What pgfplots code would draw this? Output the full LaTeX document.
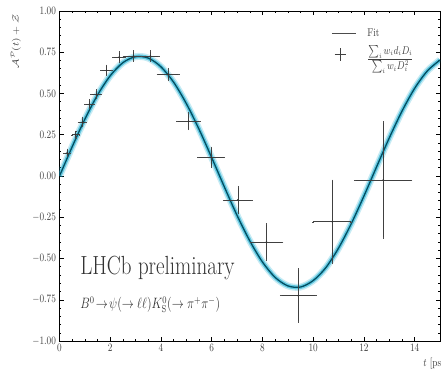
\documentclass[border=0pt]{standalone}
\usepackage{graphicx}
\usepackage{pgfplots}
\pgfplotsset{compat=1.18}
\usepackage{pgfplotstable}
\newcommand{\vs}[1]{\scalebox{1}[1.25]{#1}}
\definecolor{fitline}{RGB}{0,78,98}
\definecolor{band}{RGB}{30,175,210}

\pgfplotstableread{
x y
0 0
0.5 0.1771
1 0.3443
1.5 0.4910
2 0.6077
2.5 0.6869
3 0.7232
3.5 0.7147
4 0.6617
4.5 0.5681
5 0.4387
5.5 0.2835
6 0.1112
6.5 -0.0665
7 -0.2387
7.5 -0.3927
8 -0.5210
8.5 -0.6145
9 -0.6658
9.5 -0.6729
10 -0.6339
10.5 -0.5554
11 -0.4369
11.5 -0.2895
12 -0.1218
12.5 0.0555
13 0.2307
13.5 0.3926
14 0.5310
14.5 0.6366
15 0.7028
}\fitdata

\pgfplotstableread{
x y ex ey
0.30 0.14 0.12 0.02
0.64 0.25 0.15 0.02
0.90 0.325 0.15 0.025
1.18 0.435 0.17 0.025
1.45 0.495 0.20 0.025
1.86 0.64 0.22 0.03
2.35 0.72 0.23 0.03
2.92 0.727 0.40 0.03
3.58 0.727 0.35 0.03
4.28 0.615 0.42 0.035
5.09 0.333 0.45 0.05
5.98 0.113 0.52 0.06
7.03 -0.145 0.56 0.08
8.16 -0.40 0.63 0.11
9.41 -0.725 0.69 0.16
10.75 -0.277 0.75 0.25
12.76 -0.024 1.12 0.35
}\pointdata

\begin{document}
\begin{tikzpicture}
\begin{axis}[
  scale only axis,
  width=380.5pt, height=330pt,
  xmin=0, xmax=15, ymin=-1, ymax=1,
  xtick={0,2,...,14},
  ytick={-1,-0.75,...,1},
  minor x tick num=3,
  minor y tick num=4,
  tick align=inside,
  major tick length=4pt,
  minor tick length=2pt,
  tick style={black, line width=0.5pt},
  axis line style={black, line width=0.7pt},
  xticklabel={\vs{$\pgfmathprintnumber{\tick}$}},
  yticklabel={\vs{$\pgfmathprintnumber[fixed,fixed zerofill,precision=2]{\tick}$}},
  ticklabel style={font=\small, text=black!75},
  xlabel={\vs{$t$ [ps]}},
  xlabel style={at={(axis description cs:0.947,-0.04)}, anchor=north west, font=\small, text=black!75},
  ylabel={\scalebox{1.25}[1]{$\mathcal{A}^{\mathcal{P}}(t)+\mathcal{Z}$}},
  ylabel style={at={(axis description cs:-0.092,1)}, anchor=south east, font=\small, text=black!75},
  legend style={at={(axis cs:10.6,0.92)}, anchor=north west, draw=none, fill=none, font=\small, row sep=4pt, text=black!75},
  legend cell align=left,
]
\addplot[band, line width=7pt, opacity=0.25, forget plot, smooth] table[x=x,y=y] {\fitdata};
\addplot[band, line width=4pt, opacity=0.6, forget plot, smooth] table[x=x,y=y] {\fitdata};
\addplot[fitline, line width=1.3pt, smooth,
  legend image code/.code={\draw[black!70, line width=0.6pt] (0cm,0cm) -- (0.85cm,0cm); \path (1.15cm,0cm);}]
  table[x=x,y=y] {\fitdata};
\addlegendentry{\vs{Fit}}
\addplot[black!80, only marks, mark=*, mark size=0.5pt, line width=0.5pt,
  error bars/.cd, x dir=both, x explicit, y dir=both, y explicit,
  error mark=-, error mark options={mark size=0.8pt, black!70},
  error bar style={line width=0.5pt, black!75},
  /pgfplots/legend image code/.code={\draw[black!75, line width=0.6pt] (0.1cm,0cm) -- (0.5cm,0cm) (0.3cm,-0.22cm) -- (0.3cm,0.22cm); \path (1.15cm,0cm);}]
  table[x=x,y=y,x error=ex,y error=ey] {\pointdata};
\addlegendentry{\vs{$\frac{\textstyle\sum_i w_i d_i D_i}{\textstyle\sum_i w_i D_i^2}$}}
\node[anchor=west, text=black!80, font=\fontsize{21}{24}\selectfont] at (axis cs:0.68,-0.555) {\vs{LHCb preliminary}};
\node[anchor=west, text=black!80, font=\fontsize{12}{14}\selectfont] at (axis cs:0.68,-0.78) {\vs{$B^0\!\to\!\psi(\to\ell\ell)K^0_{\mathrm{S}}(\to\pi^+\pi^-)$}};
\end{axis}
\pgfresetboundingbox
\path[use as bounding box] ([shift={(-59.5pt,-28pt)}]current axis.south west) rectangle ([shift={(1pt,11pt)}]current axis.north east);
\end{tikzpicture}
\end{document}
